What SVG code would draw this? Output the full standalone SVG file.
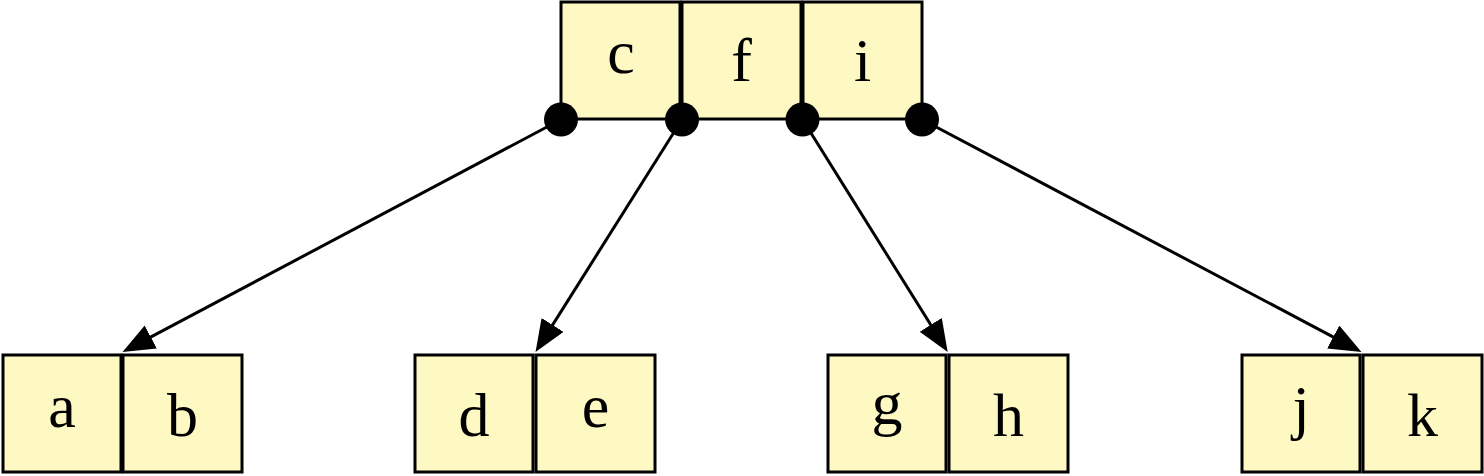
<svg xmlns="http://www.w3.org/2000/svg" width="1484" height="476" viewBox="0 0 1484 476">
  <style>
    .cell { fill: #fef9c3; stroke: #000; stroke-width: 3; }
    .lbl { font-family: "Liberation Serif", "Times New Roman", serif; font-size: 62px; fill: #000; text-anchor: middle; }
    .edge { stroke: #000; stroke-width: 3; fill: none; marker-end: url(#arrow); }
    .dot { fill: #000; }
  </style>
  <defs>
    <marker id="arrow" markerUnits="userSpaceOnUse" markerWidth="34" markerHeight="28" refX="12" refY="13" orient="auto">
      <path d="M0,0 L32,13 L0,26 z" fill="#000"/>
    </marker>
  </defs>
  <rect width="1484" height="476" fill="#fff"/>

  <g id="node-ab">
    <rect class="cell" x="3" y="355" width="118" height="117"/>
    <rect class="cell" x="123" y="355" width="119" height="117"/>
    <text class="lbl" x="62" y="427">a</text>
    <text class="lbl" x="182.5" y="436">b</text>
  </g>
  <g id="node-de">
    <rect class="cell" x="415" y="355" width="118" height="117"/>
    <rect class="cell" x="536" y="355" width="119" height="117"/>
    <text class="lbl" x="474" y="436">d</text>
    <text class="lbl" x="595.5" y="427">e</text>
  </g>
  <g id="node-gh">
    <rect class="cell" x="828" y="355" width="118" height="117"/>
    <rect class="cell" x="949" y="355" width="119" height="117"/>
    <text class="lbl" x="887" y="424">g</text>
    <text class="lbl" x="1008.5" y="436">h</text>
  </g>
  <g id="node-jk">
    <rect class="cell" x="1242" y="355" width="118" height="117"/>
    <rect class="cell" x="1363" y="355" width="119" height="117"/>
    <text class="lbl" x="1301" y="428">j</text>
    <text class="lbl" x="1422.5" y="436">k</text>
  </g>

  <g id="connectors">
    <line class="edge" x1="561" y1="119.5" x2="140.2" y2="342.6"/>
    <line class="edge" x1="682" y1="119.5" x2="546.2" y2="335.1"/>
    <line class="edge" x1="802.5" y1="119.5" x2="937.1" y2="335.0"/>
    <line class="edge" x1="922" y1="119.5" x2="1343.8" y2="342.6"/>
  </g>

  <g id="node-cfi">
    <rect class="cell" x="561" y="2" width="119" height="117"/>
    <rect class="cell" x="682" y="2" width="119" height="117"/>
    <rect class="cell" x="803" y="2" width="119" height="117"/>
    <text class="lbl" x="621" y="73">c</text>
    <text class="lbl" x="741.5" y="80.5">f</text>
    <text class="lbl" x="862.5" y="80.5">i</text>
    <circle class="dot" cx="561" cy="119.5" r="17"/>
    <circle class="dot" cx="682" cy="119.5" r="17"/>
    <circle class="dot" cx="802.5" cy="119.5" r="17"/>
    <circle class="dot" cx="922" cy="119.5" r="17"/>
  </g>
</svg>
